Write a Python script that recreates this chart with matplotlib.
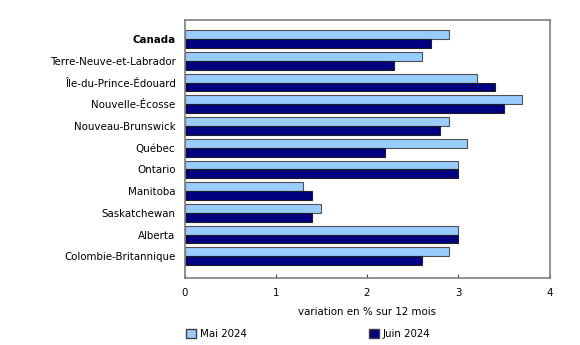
import matplotlib
matplotlib.use("Agg")
import matplotlib.pyplot as plt
import numpy as np
from matplotlib.patches import Patch

categories = ["Canada", "Terre-Neuve-et-Labrador", "Île-du-Prince-Édouard", "Nouvelle-Écosse",
              "Nouveau-Brunswick", "Québec", "Ontario", "Manitoba", "Saskatchewan",
              "Alberta", "Colombie-Britannique"]
mai_2024 = [2.9, 2.6, 3.2, 3.7, 2.9, 3.1, 3.0, 1.3, 1.5, 3.0, 2.9]
juin_2024 = [2.7, 2.3, 3.4, 3.5, 2.8, 2.2, 3.0, 1.4, 1.4, 3.0, 2.6]
series_labels = ["Mai 2024", "Juin 2024"]
xticks = [0, 1, 2, 3, 4]
xlabel = "variation en % sur 12 mois"

c_light = "#99CCFF"
c_dark = "#000080"
fs = 7.4

plt.rcParams['font.family'] = ['DejaVu Sans']
fig = plt.figure(figsize=(5.8, 3.45), dpi=100)
ax = fig.add_axes([184.5/580, 1 - 278/345, (549.5-184.5)/580, (278-20)/345])

y = np.arange(len(categories))
h = 0.41
ax.barh(y - h/2, mai_2024, height=h, color=c_light, edgecolor="#505050", linewidth=0.8)
ax.barh(y + h/2, juin_2024, height=h, color=c_dark, edgecolor="#202020", linewidth=0.8)

ax.set_ylim(len(categories) - 1 + 1.0, -0.88)
ax.set_xlim(0, 4)
ax.set_xticks(xticks)
ax.set_xticklabels([str(t) for t in xticks], fontsize=fs)
ax.set_yticks(y)
ax.set_yticklabels(categories, fontsize=fs)
for lbl in ax.get_yticklabels():
    if lbl.get_text() == "Canada":
        lbl.set_fontweight("bold")
ax.tick_params(axis='y', length=0, pad=6.5)
ax.tick_params(axis='x', direction='in', length=3, color="#404040", pad=7)
for s in ax.spines.values():
    s.set_color("#808080")
    s.set_linewidth(1.2)
ax.set_xlabel(xlabel, fontsize=fs, labelpad=7)

handles = [Patch(facecolor=c_light, edgecolor="#404040"), Patch(facecolor=c_dark, edgecolor="#404040")]
fig.legend([handles[0]], [series_labels[0]], loc='center left', bbox_to_anchor=(177/580, 1 - 334/345),
           frameon=False, fontsize=fs, handlelength=0.9, handleheight=0.9, handletextpad=0.4)
fig.legend([handles[1]], [series_labels[1]], loc='center left', bbox_to_anchor=(360/580, 1 - 334/345),
           frameon=False, fontsize=fs, handlelength=0.9, handleheight=0.9, handletextpad=0.4)

fig.savefig("out.png", dpi=100)
